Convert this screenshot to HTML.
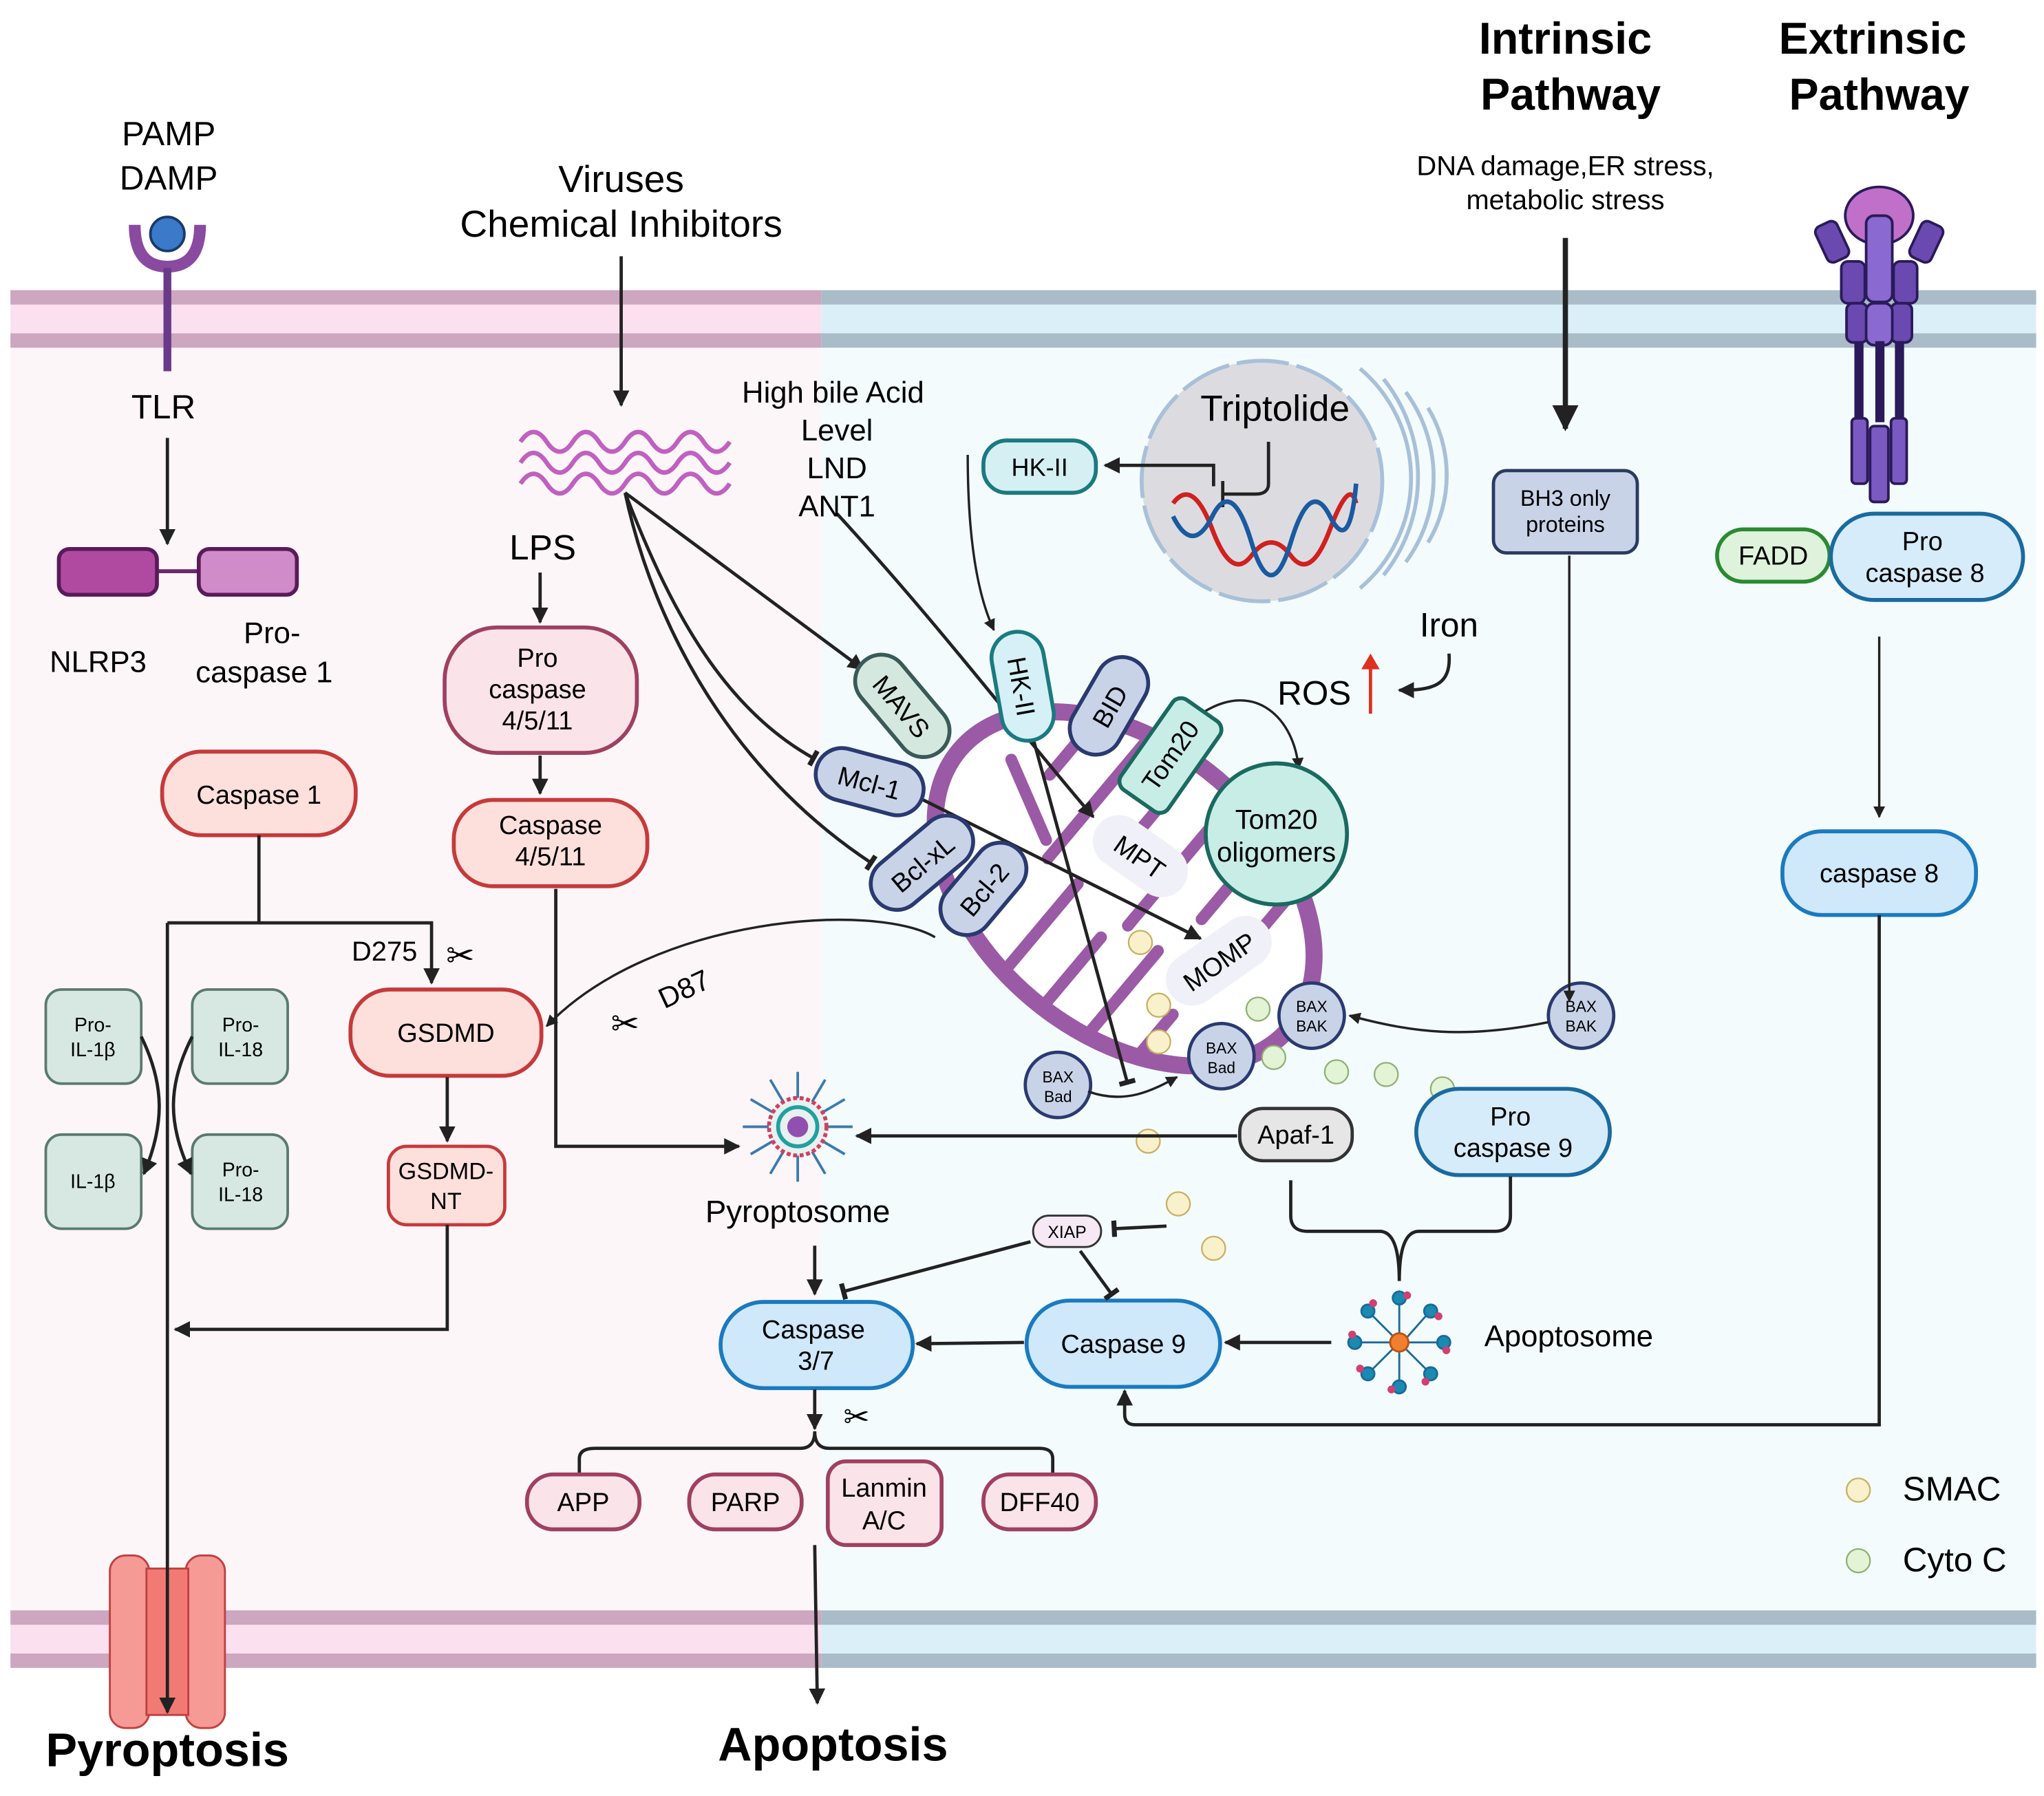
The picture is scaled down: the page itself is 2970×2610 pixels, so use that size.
<!DOCTYPE html>
<html><head><meta charset="utf-8"><style>html,body{margin:0;padding:0;background:#fff}svg{display:block}text{font-family:"Liberation Sans",sans-serif}</style></head><body>
<svg width="2970" height="2610" viewBox="0 0 1563 1374" preserveAspectRatio="none" xmlns="http://www.w3.org/2000/svg">
<defs>
<marker id="a" viewBox="0 0 10 10" refX="9" refY="5" markerWidth="5" markerHeight="5" orient="auto"><path d="M0,0L10,5L0,10z" fill="#222"/></marker>
<marker id="t" viewBox="0 0 10 10" refX="5" refY="5" markerWidth="5" markerHeight="5" orient="auto"><path d="M5,0V10" stroke="#222" stroke-width="3"/></marker>
</defs>
<rect width="1563" height="1374" fill="#fff"/>
<rect x="8" y="266" width="620" height="966" fill="#fdf6f9"/>
<rect x="628" y="266" width="929" height="966" fill="#f3fbfd"/>
<g>
<rect x="8" y="222" width="620" height="44" fill="#fbe0ef"/><rect x="8" y="222" width="620" height="11" fill="#cda6bf"/><rect x="8" y="255" width="620" height="11" fill="#cda6bf"/>
<rect x="628" y="222" width="929" height="44" fill="#dbeff8"/><rect x="628" y="222" width="929" height="11" fill="#a9bcc8"/><rect x="628" y="255" width="929" height="11" fill="#a9bcc8"/>
<rect x="8" y="1232" width="620" height="44" fill="#fbe0ef"/><rect x="8" y="1232" width="620" height="11" fill="#cda6bf"/><rect x="8" y="1265" width="620" height="11" fill="#cda6bf"/>
<rect x="628" y="1232" width="929" height="44" fill="#dbeff8"/><rect x="628" y="1232" width="929" height="11" fill="#a9bcc8"/><rect x="628" y="1265" width="929" height="11" fill="#a9bcc8"/>
</g>
<g stroke="#c04040" stroke-width="1.5" fill="#f59a94"><rect x="84" y="1190" width="30" height="132" rx="12"/><rect x="142" y="1190" width="30" height="132" rx="12"/><rect x="112" y="1200" width="32" height="112" fill="#f27a75"/></g>
<text x="129" y="111" font-size="26" text-anchor="middle">PAMP</text><text x="129" y="145" font-size="26" text-anchor="middle">DAMP</text>
<path d="M103,172 Q103,204 128,204 Q153,204 153,172" fill="none" stroke="#8a4aa0" stroke-width="9"/>
<circle cx="128" cy="179" r="13" fill="#3a7ac8" stroke="#1a3a6a" stroke-width="2"/>
<line x1="128" y1="205" x2="128" y2="284" stroke="#6a3a8a" stroke-width="6"/>
<text x="125" y="320" font-size="26" text-anchor="middle">TLR</text>
<line x1="128" y1="335" x2="128" y2="416" stroke="#222" stroke-width="2.5" marker-end="url(#a)"/>
<line x1="120" y1="437" x2="152" y2="437" stroke="#6a2a6a" stroke-width="3"/>
<rect x="45" y="420" width="75" height="35" rx="8" fill="#b04aa0" stroke="#5a1a5a" stroke-width="3"/>
<rect x="152" y="420" width="75" height="35" rx="8" fill="#cf8cc8" stroke="#5a1a5a" stroke-width="3"/>
<text x="75" y="514" font-size="23" text-anchor="middle">NLRP3</text>
<text x="208" y="492" font-size="23" text-anchor="middle">Pro-</text><text x="202" y="522" font-size="23" text-anchor="middle">caspase 1</text>
<rect x="124" y="575" width="148" height="64" rx="30" fill="#fde0dc" stroke="#c63a3a" stroke-width="3"/>
<text x="198" y="615" font-size="20" text-anchor="middle">Caspase 1</text>
<path d="M198,639V706M128,706H330V752" fill="none" stroke="#222" stroke-width="2.5" marker-end="url(#a)"/>
<line x1="128" y1="706" x2="128" y2="1310" stroke="#222" stroke-width="2.5" marker-end="url(#a)"/>
<text x="294" y="735" font-size="21" text-anchor="middle">D275</text>
<text x="352" y="740" font-size="26" text-anchor="middle">✂</text>
<g fill="#d7e8e3" stroke="#5a7a70" stroke-width="2">
<rect x="35" y="757" width="73" height="72" rx="12"/><rect x="147" y="757" width="73" height="72" rx="12"/>
<rect x="35" y="868" width="73" height="72" rx="12"/><rect x="147" y="868" width="73" height="72" rx="12"/></g>
<g font-size="15" text-anchor="middle"><text x="71" y="789">Pro-</text><text x="71" y="808">IL-1β</text><text x="184" y="789">Pro-</text><text x="184" y="808">IL-18</text><text x="71" y="909">IL-1β</text><text x="184" y="900">Pro-</text><text x="184" y="919">IL-18</text></g>
<path d="M108,793 C126,830 126,860 110,898" fill="none" stroke="#222" stroke-width="2.5" marker-end="url(#a)"/>
<path d="M147,793 C128,830 128,860 146,898" fill="none" stroke="#222" stroke-width="2.5" marker-end="url(#a)"/>
<rect x="268" y="757" width="146" height="66" rx="30" fill="#fde0dc" stroke="#c63a3a" stroke-width="3"/>
<text x="341" y="797" font-size="20" text-anchor="middle">GSDMD</text>
<line x1="342" y1="824" x2="342" y2="873" stroke="#222" stroke-width="2.5" marker-end="url(#a)"/>
<rect x="297" y="877" width="89" height="60" rx="14" fill="#fde0dc" stroke="#c63a3a" stroke-width="2.5"/>
<text x="341" y="902" font-size="18" text-anchor="middle">GSDMD-</text><text x="341" y="925" font-size="18" text-anchor="middle">NT</text>
<path d="M342,937V1017H134" fill="none" stroke="#222" stroke-width="2.5" marker-end="url(#a)"/>
<text x="475" y="147" font-size="29" text-anchor="middle">Viruses</text><text x="475" y="181" font-size="29" text-anchor="middle">Chemical Inhibitors</text>
<line x1="475" y1="196" x2="475" y2="310" stroke="#222" stroke-width="2.5" marker-end="url(#a)"/>
<g fill="none" stroke="#c060c0" stroke-width="3.5">
<path d="M398,338 q10,-15 20,0 t20,0 t20,0 t20,0 t20,0 t20,0 t20,0 t20,0"/>
<path d="M398,354 q10,-15 20,0 t20,0 t20,0 t20,0 t20,0 t20,0 t20,0 t20,0"/>
<path d="M398,370 q10,-15 20,0 t20,0 t20,0 t20,0 t20,0 t20,0 t20,0 t20,0"/></g>
<text x="415" y="428" font-size="27" text-anchor="middle">LPS</text>
<line x1="413" y1="438" x2="413" y2="476" stroke="#222" stroke-width="2.5" marker-end="url(#a)"/>
<rect x="340" y="480" width="147" height="96" rx="40" fill="#fbe3ea" stroke="#a04060" stroke-width="3"/>
<text x="411" y="510" font-size="20" text-anchor="middle">Pro</text><text x="411" y="534" font-size="20" text-anchor="middle">caspase</text><text x="411" y="558" font-size="20" text-anchor="middle">4/5/11</text>
<line x1="413" y1="578" x2="413" y2="607" stroke="#222" stroke-width="2.5" marker-end="url(#a)"/>
<rect x="347" y="612" width="148" height="66" rx="30" fill="#fde0dc" stroke="#c63a3a" stroke-width="3"/>
<text x="421" y="638" font-size="20" text-anchor="middle">Caspase</text><text x="421" y="662" font-size="20" text-anchor="middle">4/5/11</text>
<path d="M425,680V877H565" fill="none" stroke="#222" stroke-width="2.5" marker-end="url(#a)"/>
<!-- nucleus and ER -->
<g fill="none" stroke="#a8c0d8" stroke-width="3">
<path d="M1040,282 A110,110 0 0 1 1040,450"/><path d="M1058,290 A120,120 0 0 1 1058,440"/><path d="M1075,300 A110,110 0 0 1 1075,430"/><path d="M1092,312 A100,100 0 0 1 1092,415"/></g>
<circle cx="965" cy="368" r="92" fill="#dcdce0" stroke="#a8c0d8" stroke-width="3" stroke-dasharray="40 6"/>
<text x="975" y="322" font-size="28" text-anchor="middle">Triptolide</text>
<path d="M970,338 V370 Q970,378 960,378 H935" fill="none" stroke="#222" stroke-width="2.5"/><line x1="935" y1="368" x2="935" y2="388" stroke="#222" stroke-width="2.5"/>
<path d="M928,372 V356 H845" fill="none" stroke="#222" stroke-width="2.5" marker-end="url(#a)"/>
<path d="M897,385 q15,-20 30,20 t30,20 t30,0 t30,-20 t20,-20" fill="none" stroke="#d02020" stroke-width="3.5"/>
<path d="M897,395 q15,30 30,0 t30,20 t30,0 t30,-20 t20,-25" fill="none" stroke="#1a5aa0" stroke-width="3.5"/>
<rect x="752" y="337" width="86" height="40" rx="18" fill="#d5f0f3" stroke="#1a7a80" stroke-width="3"/>
<text x="795" y="364" font-size="19" text-anchor="middle">HK-II</text>
<!-- mitochondrion -->
<g transform="rotate(40 860 680)">
<ellipse cx="860" cy="680" rx="165" ry="110" fill="#fff" stroke="#9b5aa5" stroke-width="13"/>
<g stroke="#9b5aa5" stroke-width="9" stroke-linecap="round" fill="none">
<path d="M730,660 L790,690"/><path d="M760,585 V650"/><path d="M800,577 V700"/><path d="M840,572 V650"/><path d="M880,577 V700"/><path d="M920,582 V660"/><path d="M960,600 V690"/><path d="M780,785 V720"/><path d="M830,788 V700"/><path d="M870,788 V720"/><path d="M910,782 V700"/><path d="M950,770 V730"/>
</g></g>
<g fill="none" stroke="#222" stroke-width="2.5">
<path d="M478,377 L660,512" marker-end="url(#a)"/>
<path d="M478,377 C510,460 550,540 622,580" marker-end="url(#t)"/>
<path d="M478,377 C500,480 560,590 666,660" marker-end="url(#t)"/>
<path d="M640,393 C720,480 780,560 836,625" marker-end="url(#a)"/>
<path d="M740,348 C740,400 745,450 760,482" stroke-width="1.8" marker-end="url(#a)"/>
<path d="M790,565 L862,828" marker-end="url(#t)"/>
<path d="M706,612 L918,718" marker-end="url(#a)"/>
<path d="M715,717 C670,690 500,700 418,785" stroke-width="1.8" marker-end="url(#a)"/>
<path d="M920,545 C960,520 990,550 993,588" stroke-width="1.8" marker-end="url(#a)"/>
<path d="M1108,500 C1110,525 1095,528 1070,528" marker-end="url(#a)"/>
</g>
<text x="637" y="308" font-size="23" text-anchor="middle">High bile Acid</text>
<text x="640" y="337" font-size="23" text-anchor="middle">Level</text><text x="640" y="366" font-size="23" text-anchor="middle">LND</text><text x="640" y="395" font-size="23" text-anchor="middle">ANT1</text>
<text x="508" y="772" font-size="22" transform="rotate(-25 508 772)">D87</text>
<text x="478" y="792" font-size="26" text-anchor="middle">✂</text>
<g stroke-width="3">
<g transform="rotate(50 690 540)"><rect x="645" y="520" width="90" height="40" rx="20" fill="#d5e8e0" stroke="#3a5a58"/><text x="690" y="548" font-size="20" text-anchor="middle" stroke="none">MAVS</text></g>
<g transform="rotate(80 782 525)"><rect x="740" y="505" width="84" height="40" rx="20" fill="#d5f0f6" stroke="#1a7a80"/><text x="782" y="533" font-size="20" text-anchor="middle" stroke="none">HK-II</text></g>
<g transform="rotate(-60 848 540)"><rect x="808" y="520" width="80" height="40" rx="20" fill="#c8d3e8" stroke="#2a3a70"/><text x="848" y="548" font-size="20" text-anchor="middle" stroke="none">BID</text></g>
<g transform="rotate(-55 895 578)"><rect x="853" y="556" width="84" height="44" rx="8" fill="#c8ece6" stroke="#1a6a60"/><text x="895" y="585" font-size="20" text-anchor="middle" stroke="none">Tom20</text></g>
<g transform="rotate(15 665 598)"><rect x="623" y="578" width="84" height="40" rx="20" fill="#c8d3e8" stroke="#2a3a70"/><text x="665" y="606" font-size="20" text-anchor="middle" stroke="none">Mcl-1</text></g>
<g transform="rotate(-40 705 660)"><rect x="660" y="640" width="90" height="40" rx="20" fill="#c8d3e8" stroke="#2a3a70"/><text x="705" y="668" font-size="20" text-anchor="middle" stroke="none">Bcl-xL</text></g>
<g transform="rotate(-50 752 680)"><rect x="712" y="660" width="80" height="40" rx="20" fill="#c8d3e8" stroke="#2a3a70"/><text x="752" y="688" font-size="20" text-anchor="middle" stroke="none">Bcl-2</text></g>
<g transform="rotate(35 872 655)"><rect x="832" y="635" width="80" height="40" rx="20" fill="#f0f0f8" stroke="none"/><text x="872" y="663" font-size="20" text-anchor="middle" stroke="none">MPT</text></g>
<g transform="rotate(-35 932 735)"><rect x="887" y="715" width="90" height="40" rx="20" fill="#f0f0f8" stroke="none"/><text x="932" y="743" font-size="20" text-anchor="middle" stroke="none">MOMP</text></g>
</g>
<circle cx="976" cy="638" r="54" fill="#c8ece6" stroke="#1a6a60" stroke-width="3"/>
<text x="976" y="634" font-size="21" text-anchor="middle">Tom20</text><text x="976" y="659" font-size="21" text-anchor="middle">oligomers</text>
<text x="1108" y="487" font-size="26" text-anchor="middle">Iron</text>
<text x="1005" y="539" font-size="26" text-anchor="middle">ROS</text>
<line x1="1048" y1="546" x2="1048" y2="508" stroke="#e03020" stroke-width="2.5"/><path d="M1041,512 L1048,500 L1055,512z" fill="#e03020"/>
<g fill="#f8f1cc" stroke="#c8b060" stroke-width="1.2"><circle cx="872" cy="721" r="9"/><circle cx="886" cy="769" r="9"/><circle cx="886" cy="797" r="9"/><circle cx="878" cy="873" r="9"/><circle cx="901" cy="921" r="9"/><circle cx="928" cy="955" r="9"/><circle cx="1421" cy="1140" r="9"/></g>
<g fill="#e2f3d6" stroke="#90b070" stroke-width="1.2"><circle cx="962" cy="772" r="9"/><circle cx="974" cy="809" r="9"/><circle cx="1022" cy="820" r="9"/><circle cx="1060" cy="822" r="9"/><circle cx="1103" cy="833" r="9"/><circle cx="1421" cy="1194" r="9"/></g>
<text x="1455" y="1148" font-size="26">SMAC</text><text x="1455" y="1202" font-size="26">Cyto C</text>
<g fill="#c8d3e8" stroke="#2a3a70" stroke-width="2.5"><circle cx="1209" cy="777" r="25"/><circle cx="1003" cy="777" r="25"/><circle cx="934" cy="808" r="25"/><circle cx="809" cy="830" r="25"/></g>
<g font-size="12" text-anchor="middle"><text x="1209" y="774">BAX</text><text x="1209" y="789">BAK</text><text x="1003" y="774">BAX</text><text x="1003" y="789">BAK</text><text x="934" y="806">BAX</text><text x="934" y="821">Bad</text><text x="809" y="828">BAX</text><text x="809" y="843">Bad</text></g>
<path d="M1184,782 C1120,795 1080,790 1032,777" fill="none" stroke="#222" stroke-width="1.8" marker-end="url(#a)"/>
<path d="M832,835 C860,845 880,835 900,824" fill="none" stroke="#222" stroke-width="1.8" marker-end="url(#a)"/>
<text x="1197" y="41" font-size="34" font-weight="bold" text-anchor="middle">Intrinsic</text><text x="1201" y="84" font-size="34" font-weight="bold" text-anchor="middle">Pathway</text>
<text x="1432" y="41" font-size="34" font-weight="bold" text-anchor="middle">Extrinsic</text><text x="1437" y="84" font-size="34" font-weight="bold" text-anchor="middle">Pathway</text>
<text x="1197" y="134" font-size="21" text-anchor="middle">DNA damage,ER stress,</text><text x="1197" y="160" font-size="21" text-anchor="middle">metabolic stress</text>
<line x1="1197" y1="182" x2="1197" y2="328" stroke="#222" stroke-width="4" marker-end="url(#a)"/>
<rect x="1142" y="360" width="110" height="63" rx="10" fill="#c8d3e8" stroke="#2a3a60" stroke-width="2.5"/>
<text x="1197" y="387" font-size="17" text-anchor="middle">BH3 only</text><text x="1197" y="407" font-size="17" text-anchor="middle">proteins</text>
<line x1="1200" y1="425" x2="1200" y2="766" stroke="#222" stroke-width="1.8" marker-end="url(#a)"/>
<g stroke="#2a1a5a" stroke-width="2">
<ellipse cx="1437" cy="165" rx="26" ry="22" fill="#c070c8"/>
<rect x="1392" y="170" width="18" height="30" rx="5" fill="#6a4ab0" transform="rotate(-25 1401 185)"/><rect x="1464" y="170" width="18" height="30" rx="5" fill="#6a4ab0" transform="rotate(25 1473 185)"/>
<rect x="1408" y="200" width="18" height="32" rx="5" fill="#6a4ab0"/><rect x="1448" y="200" width="18" height="32" rx="5" fill="#6a4ab0"/><rect x="1427" y="165" width="20" height="66" rx="6" fill="#8a6ad0"/>
<rect x="1412" y="232" width="16" height="30" rx="5" fill="#6a4ab0"/><rect x="1446" y="232" width="16" height="30" rx="5" fill="#6a4ab0"/><rect x="1427" y="232" width="20" height="32" rx="6" fill="#8a6ad0"/>
<rect x="1419" y="262" width="5" height="60" fill="#2a1a5a"/><rect x="1435" y="262" width="5" height="60" fill="#2a1a5a"/><rect x="1450" y="262" width="5" height="60" fill="#2a1a5a"/>
<rect x="1416" y="320" width="12" height="50" rx="3" fill="#7a5ac0"/><rect x="1430" y="326" width="14" height="58" rx="3" fill="#7a5ac0"/><rect x="1446" y="320" width="12" height="50" rx="3" fill="#7a5ac0"/>
</g>
<rect x="1313" y="405" width="86" height="40" rx="20" fill="#dff3dc" stroke="#2a8a30" stroke-width="3"/>
<text x="1356" y="432" font-size="20" text-anchor="middle">FADD</text>
<rect x="1400" y="393" width="147" height="66" rx="33" fill="#d6ecfa" stroke="#1a6aa0" stroke-width="3"/>
<text x="1470" y="421" font-size="20" text-anchor="middle">Pro</text><text x="1472" y="445" font-size="20" text-anchor="middle">caspase 8</text>
<line x1="1437" y1="487" x2="1437" y2="625" stroke="#222" stroke-width="1.8" marker-end="url(#a)"/>
<rect x="1363" y="636" width="148" height="64" rx="30" fill="#cfe8fa" stroke="#1a7ac0" stroke-width="3"/>
<text x="1437" y="675" font-size="20" text-anchor="middle">caspase 8</text>
<path d="M1437,700V1090H868Q860,1090 860,1082V1064" fill="none" stroke="#222" stroke-width="2.5" marker-end="url(#a)"/>
<rect x="1083" y="833" width="148" height="66" rx="33" fill="#d6ecfa" stroke="#1a6aa0" stroke-width="3"/>
<text x="1155" y="861" font-size="20" text-anchor="middle">Pro</text><text x="1157" y="885" font-size="20" text-anchor="middle">caspase 9</text>
<rect x="948" y="848" width="86" height="40" rx="18" fill="#e6e6e6" stroke="#333" stroke-width="2.5"/>
<text x="991" y="875" font-size="20" text-anchor="middle">Apaf-1</text>
<line x1="946" y1="869" x2="655" y2="869" stroke="#222" stroke-width="2.5" marker-end="url(#a)"/>
<path d="M987,903V930Q987,942 1000,942H1055Q1070,942 1070,980Q1070,942 1085,942H1143Q1155,942 1155,930V900" fill="none" stroke="#222" stroke-width="2.5"/>
<g transform="translate(1070 1027)" stroke="#1a6a9a" stroke-width="1.5">
<g fill="#1a8ab0"><circle cx="0" cy="-34" r="5"/><circle cx="24" cy="-24" r="5"/><circle cx="34" cy="0" r="5"/><circle cx="24" cy="24" r="5"/><circle cx="0" cy="34" r="5"/><circle cx="-24" cy="24" r="5"/><circle cx="-34" cy="0" r="5"/><circle cx="-24" cy="-24" r="5"/></g>
<g fill="#d04070" stroke="none"><circle cx="6" cy="-36" r="3"/><circle cx="30" cy="-20" r="3"/><circle cx="36" cy="6" r="3"/><circle cx="20" cy="30" r="3"/><circle cx="-6" cy="36" r="3"/><circle cx="-30" cy="20" r="3"/><circle cx="-36" cy="-6" r="3"/><circle cx="-20" cy="-30" r="3"/></g>
<path d="M0,-6V-30M6,-4L21,-21M6,0H30M4,4L21,21M0,6V30M-4,4L-21,21M-6,0H-30M-4,-4L-21,-21" fill="none"/>
<circle r="7" fill="#f08030" stroke="#c05010"/></g>
<text x="1135" y="1030" font-size="23">Apoptosome</text>
<line x1="1018" y1="1027" x2="937" y2="1027" stroke="#222" stroke-width="2.5" marker-end="url(#a)"/>
<rect x="785" y="995" width="148" height="66" rx="33" fill="#cfe8fa" stroke="#1a7ac0" stroke-width="3"/>
<text x="859" y="1035" font-size="20" text-anchor="middle">Caspase 9</text>
<line x1="783" y1="1027" x2="701" y2="1028" stroke="#222" stroke-width="2.5" marker-end="url(#a)"/>
<rect x="551" y="996" width="147" height="66" rx="33" fill="#cfe8fa" stroke="#1a7ac0" stroke-width="3"/>
<text x="622" y="1024" font-size="20" text-anchor="middle">Caspase</text><text x="624" y="1048" font-size="20" text-anchor="middle">3/7</text>
<rect x="790" y="930" width="52" height="24" rx="12" fill="#f7e8f5" stroke="#333" stroke-width="1.5"/>
<text x="816" y="947" font-size="13" text-anchor="middle">XIAP</text>
<g fill="none" stroke="#222" stroke-width="2.5">
<path d="M892,938 L852,940" marker-end="url(#t)"/>
<path d="M788,950 L645,988" marker-end="url(#t)"/>
<path d="M826,957 L850,990" marker-end="url(#t)"/>
<line x1="623" y1="953" x2="623" y2="990" marker-end="url(#a)"/>
<line x1="623" y1="1063" x2="623" y2="1093" marker-end="url(#a)"/>
<path d="M443,1128V1116Q443,1108 455,1108H612Q623,1108 623,1095Q623,1108 634,1108H795Q805,1108 805,1116V1128"/>
<line x1="623" y1="1182" x2="625" y2="1303" marker-end="url(#a)"/>
</g>
<text x="655" y="1092" font-size="24" text-anchor="middle">✂</text>
<g transform="translate(610 862)">
<g stroke="#3a7ab0" stroke-width="2"><path d="M0,-42V-22M21,-36L11,-19M36,-21L19,-11M42,0H22M36,21L19,11M21,36L11,19M0,42V22M-21,36L-11,19M-36,21L-19,11M-42,0H-22M-36,-21L-19,-11M-21,-36L-11,-19"/></g>
<circle r="22" fill="#e8f0f0" stroke="#d04060" stroke-width="3" stroke-dasharray="3 2"/>
<circle r="15" fill="none" stroke="#20a0a0" stroke-width="3"/>
<circle r="8" fill="#9050b0"/></g>
<text x="610" y="935" font-size="24" text-anchor="middle">Pyroptosome</text>
<g fill="#fbe3ea" stroke="#a04060" stroke-width="3">
<rect x="403" y="1128" width="86" height="42" rx="20"/><rect x="527" y="1128" width="86" height="42" rx="20"/><rect x="633" y="1118" width="87" height="64" rx="14"/><rect x="752" y="1128" width="86" height="42" rx="20"/></g>
<g font-size="20" text-anchor="middle"><text x="446" y="1156">APP</text><text x="570" y="1156">PARP</text><text x="676" y="1145">Lanmin</text><text x="676" y="1170">A/C</text><text x="795" y="1156">DFF40</text></g>
<text x="128" y="1351" font-size="36" font-weight="bold" text-anchor="middle">Pyroptosis</text>
<text x="637" y="1347" font-size="36" font-weight="bold" text-anchor="middle">Apoptosis</text>
</svg>
</body></html>
